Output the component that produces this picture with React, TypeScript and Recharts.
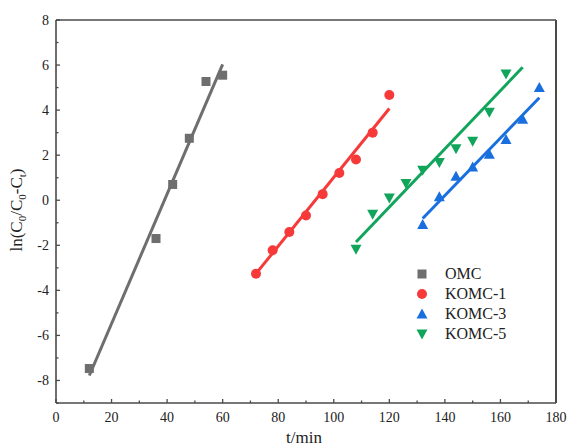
import { ComposedChart, Line, ReferenceLine, Scatter, XAxis, YAxis, Label } from "recharts";

// measured points, t in min
const omcTime = [12, 36, 42, 48, 54, 60];
const omcValue = [-7.47, -1.7, 0.7, 2.75, 5.27, 5.55];

const komc1Time = [72, 78, 84, 90, 96, 102, 108, 114, 120];
const komc1Value = [-3.26, -2.22, -1.41, -0.68, 0.27, 1.21, 1.81, 3.0, 4.67];

const komc3Time = [132, 138, 144, 150, 156, 162, 168, 174];
const komc3Value = [-1.08, 0.15, 1.07, 1.48, 2.04, 2.7, 3.59, 5.0];

const komc5Time = [108, 114, 120, 126, 132, 138, 144, 150, 156, 162];
const komc5Value = [-2.18, -0.62, 0.1, 0.74, 1.33, 1.68, 2.28, 2.62, 3.91, 5.6];

// linear fit end points (start, end)
const omcFitTime = [12, 60];
const omcFitValue = [-7.78, 6.03];
const komc1FitTime = [72, 120];
const komc1FitValue = [-3.26, 4.07];
const komc3FitTime = [132, 174];
const komc3FitValue = [-0.81, 4.55];
const komc5FitTime = [108, 168];
const komc5FitValue = [-1.85, 5.9];

const xTicks = [0, 10, 20, 30, 40, 50, 60, 70, 80, 90, 100, 110, 120, 130, 140, 150, 160, 170, 180];
const yTicks = [-9, -8, -7, -6, -5, -4, -3, -2, -1, 0, 1, 2, 3, 4, 5, 6, 7, 8];

const seriesNames = ["OMC", "KOMC-1", "KOMC-3", "KOMC-5"];

const GRAY = "#6e6e6e";
const RED = "#f63a3a";
const BLUE = "#1a6fdf";
const GREEN = "#11a55c";
const AXIS = "#4a4a4a";
const FONT = "'Liberation Serif', 'Times New Roman', serif";

const zip = (ts: number[], vs: number[]) => ts.map((t, i) => ({ t, v: vs[i] }));

const omcData = zip(omcTime, omcValue);
const komc1Data = zip(komc1Time, komc1Value);
const komc3Data = zip(komc3Time, komc3Value);
const komc5Data = zip(komc5Time, komc5Value);

const omcFit = zip(omcFitTime, omcFitValue);
const komc1Fit = zip(komc1FitTime, komc1FitValue);
const komc3Fit = zip(komc3FitTime, komc3FitValue);
const komc5Fit = zip(komc5FitTime, komc5FitValue);

const Square = ({ cx, cy, fill }: any) => <rect x={cx - 4.5} y={cy - 4.5} width={9} height={9} fill={fill} />;
const Dot = ({ cx, cy, fill }: any) => <circle cx={cx} cy={cy} r={5} fill={fill} />;
const UpTri = ({ cx, cy, fill }: any) => (
  <path d={`M${cx},${cy - 5.5} L${cx + 5.5},${cy + 4.5} L${cx - 5.5},${cy + 4.5} Z`} fill={fill} />
);
const DownTri = ({ cx, cy, fill }: any) => (
  <path d={`M${cx},${cy + 5.5} L${cx + 5.5},${cy - 4.5} L${cx - 5.5},${cy - 4.5} Z`} fill={fill} />
);

const XTick = ({ x, y, payload }: any) => {
  const major = payload.value % 20 === 0;
  return (
    <g>
      <line x1={x} x2={x} y1={y} y2={y - (major ? 4 : 2.5)} stroke={AXIS} strokeWidth={1.3} />
      {major && (
        <text x={x} y={y + 19} textAnchor="middle" fontSize={14} fontFamily={FONT} fill="#222">
          {payload.value}
        </text>
      )}
    </g>
  );
};

const YTick = ({ x, y, payload }: any) => {
  const major = payload.value % 2 === 0;
  return (
    <g>
      <line x1={x} x2={x + (major ? 4 : 2.5)} y1={y} y2={y} stroke={AXIS} strokeWidth={1.3} />
      {major && (
        <text x={x - 7} y={y + 5} textAnchor="end" fontSize={14} fontFamily={FONT} fill="#222">
          {payload.value}
        </text>
      )}
    </g>
  );
};

const YTitle = () => (
  <text
    transform="translate(22,210) rotate(-90)"
    textAnchor="middle"
    fontSize={17}
    fontFamily={FONT}
    fill="#222"
  >
    ln(C<tspan fontSize={11} dy={4}>0</tspan>
    <tspan dy={-4}>/C</tspan>
    <tspan fontSize={11} dy={4}>0</tspan>
    <tspan dy={-4}>-C</tspan>
    <tspan fontSize={11} dy={4}>t</tspan>
    <tspan dy={-4}>)</tspan>
  </text>
);

const XTitle = () => (
  <text x={304} y={443} textAnchor="middle" fontSize={17} fontFamily={FONT} fill="#222">
    t/min
  </text>
);

const legendColors = [GRAY, RED, BLUE, GREEN];
const legendShapes = [Square, Dot, UpTri, DownTri];

function ChartLegend() {
  return (
    <svg width={140} height={90} style={{ position: "absolute", left: 410, top: 262 }}>
      {seriesNames.map((name, i) => {
        const Shape = legendShapes[i];
        const cy = 12 + i * 20;
        return (
          <g key={name}>
            <Shape cx={12} cy={cy} fill={legendColors[i]} />
            <text x={35} y={cy + 5} fontSize={16} fontFamily={FONT} fill="#222">
              {name}
            </text>
          </g>
        );
      })}
    </svg>
  );
}

export default function App() {
  return (
    <div style={{ position: "absolute", left: 0, top: 0, width: 567, height: 448, background: "#fff" }}>
      <ComposedChart width={567} height={448} margin={{ top: 20, right: 11, bottom: 15, left: 0 }}>
        <XAxis
          dataKey="t"
          type="number"
          domain={[0, 180]}
          ticks={xTicks}
          interval={0}
          tickSize={0}
          tickMargin={0}
          tickLine={false}
          tick={<XTick />}
          height={30}
          axisLine={{ stroke: AXIS, strokeWidth: 1.6 }}
        >
          <Label content={<XTitle />} />
        </XAxis>
        <YAxis
          dataKey="v"
          type="number"
          domain={[-9, 8]}
          ticks={yTicks}
          interval={0}
          tickSize={0}
          tickMargin={0}
          tickLine={false}
          tick={<YTick />}
          width={56}
          axisLine={{ stroke: AXIS, strokeWidth: 1.6 }}
        >
          <Label content={<YTitle />} />
        </YAxis>
        <ReferenceLine y={8} stroke={AXIS} strokeWidth={1.6} />
        <ReferenceLine x={180} stroke={AXIS} strokeWidth={2} />

        <Line data={omcFit} dataKey="v" stroke={GRAY} strokeWidth={3} dot={false} isAnimationActive={false} />
        <Line data={komc1Fit} dataKey="v" stroke={RED} strokeWidth={3} dot={false} isAnimationActive={false} />
        <Line data={komc3Fit} dataKey="v" stroke={BLUE} strokeWidth={3} dot={false} isAnimationActive={false} />
        <Line data={komc5Fit} dataKey="v" stroke={GREEN} strokeWidth={3} dot={false} isAnimationActive={false} />

        <Scatter name="OMC" data={omcData} fill={GRAY} shape={<Square />} isAnimationActive={false} />
        <Scatter name="KOMC-1" data={komc1Data} fill={RED} shape={<Dot />} isAnimationActive={false} />
        <Scatter name="KOMC-3" data={komc3Data} fill={BLUE} shape={<UpTri />} isAnimationActive={false} />
        <Scatter name="KOMC-5" data={komc5Data} fill={GREEN} shape={<DownTri />} isAnimationActive={false} />
      </ComposedChart>
      <ChartLegend />
    </div>
  );
}
